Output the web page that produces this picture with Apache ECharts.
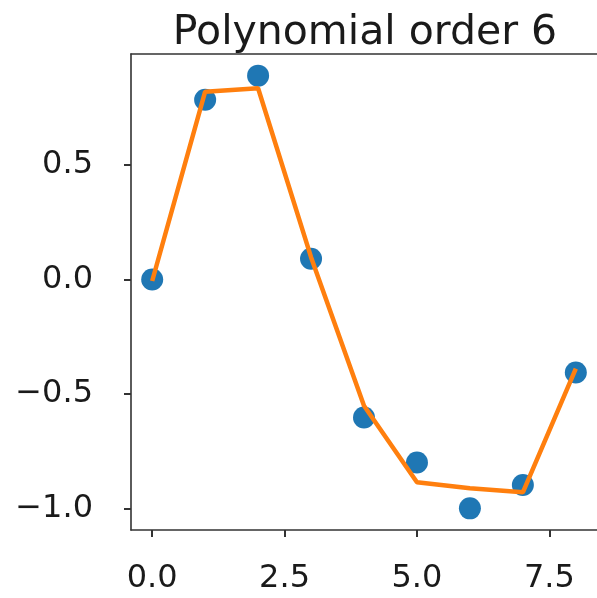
<!DOCTYPE html>
<html>
<head>
<meta charset="utf-8">
<script src="https://cdn.jsdelivr.net/npm/echarts@6/dist/echarts.min.js"></script>
<style>
html,body{margin:0;padding:0;background:#fff;}
#chart{width:597px;height:598px;}
</style>
</head>
<body>
<div id="chart"></div>
<script>
// Data
const xValues = [0, 1, 2, 3, 4, 5, 6, 7, 8];
const observed = [0.0, 0.785, 0.89, 0.09, -0.603, -0.80, -1.0, -0.898, -0.407];
const fitted = [-0.007, 0.82, 0.835, 0.097, -0.552, -0.886, -0.912, -0.93, -0.39];
const xTicks = [0, 2.5, 5, 7.5];
const yTicks = [-1.0, -0.5, 0.0, 0.5];
const titleText = 'Polynomial order 6';

const fmt = v => v.toFixed(1).replace('-', '\u2212');
const font = 'DejaVu Sans';
const spine = {color: '#333', width: 1.6};

const chart = echarts.init(document.getElementById('chart'), null, {renderer: 'canvas'});
chart.setOption({
  animation: false,
  backgroundColor: '#fff',
  title: {
    text: titleText,
    left: 360,
    top: 8,
    textAlign: 'center',
    textStyle: {fontFamily: font, fontSize: 41, fontWeight: 'normal', color: '#1a1a1a'}
  },
  grid: {
    left: 131, top: 54, width: 470, height: 476, show: false
  },
  xAxis: [{
    type: 'value', min: -0.4, max: 8.4, position: 'bottom',
    splitLine: {show: false},
    axisLine: {show: true, onZero: false, lineStyle: spine},
    axisTick: {show: true, inside: false, length: 7, customValues: xTicks, lineStyle: {color: '#333', width: 2}},
    axisLabel: {show: true, customValues: xTicks, margin: 33, formatter: fmt,
      fontFamily: font, fontSize: 32, color: '#1a1a1a'}
  }, {
    type: 'value', min: -0.4, max: 8.4, position: 'top',
    splitLine: {show: false},
    axisLine: {show: true, onZero: false, lineStyle: spine},
    axisTick: {show: false},
    axisLabel: {show: false}
  }],
  yAxis: {
    type: 'value', min: -1.0945, max: 0.9845,
    splitLine: {show: false},
    axisLine: {show: true, onZero: false, lineStyle: spine},
    axisTick: {show: true, inside: false, length: 7, customValues: yTicks, lineStyle: {color: '#333', width: 2}},
    axisLabel: {show: true, customValues: yTicks, margin: 38, formatter: fmt,
      fontFamily: font, fontSize: 32, color: '#1a1a1a'}
  },
  series: [
    {
      type: 'scatter',
      xAxisIndex: 0,
      data: xValues.map((x, i) => [x, observed[i]]),
      symbol: 'circle',
      symbolSize: 22,
      itemStyle: {color: '#1f77b4', opacity: 1},
      z: 2
    },
    {
      type: 'line',
      xAxisIndex: 0,
      data: xValues.map((x, i) => [x, fitted[i]]),
      showSymbol: false,
      symbol: 'none',
      lineStyle: {color: '#ff7f0e', width: 4.5},
      z: 3
    }
  ]
});
</script>
</body>
</html>
